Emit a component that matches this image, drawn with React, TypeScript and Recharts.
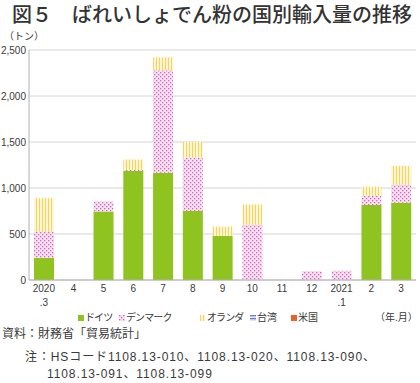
import { Bar, BarChart, CartesianGrid, XAxis, YAxis } from 'recharts'

const months = ['2020.3', '4', '5', '6', '7', '8', '9', '10', '11', '12', '2021.1', '2', '3']
const germany = [240, 0, 745, 1185, 1165, 750, 480, 0, 0, 0, 0, 815, 840]
const denmark = [285, 0, 110, 10, 1115, 580, 0, 600, 0, 95, 100, 100, 195]
const netherlands = [365, 0, 0, 115, 140, 170, 100, 220, 0, 0, 0, 100, 205]
const taiwan = [0, 0, 0, 0, 0, 0, 0, 0, 0, 0, 0, 0, 0]
const usa = [0, 0, 0, 0, 0, 0, 0, 0, 0, 0, 0, 0, 0]
const yTicks = [0, 500, 1000, 1500, 2000, 2500]

const series = [
  { key: 'germany', name: 'ドイツ', fill: '#8fc31f' },
  { key: 'denmark', name: 'デンマーク', fill: 'url(#dk-dots)' },
  { key: 'netherlands', name: 'オランダ', fill: 'url(#nl-stripes)' },
  { key: 'taiwan', name: '台湾', fill: 'url(#tw-lines)' },
  { key: 'usa', name: '米国', fill: '#e8632a' },
]

const data = months.map((month, i) => ({
  month,
  germany: germany[i],
  denmark: denmark[i],
  netherlands: netherlands[i],
  taiwan: taiwan[i],
  usa: usa[i],
}))

const numFont = "'Liberation Sans', Arial, 'Noto Sans CJK JP', sans-serif"
const jpFont = "'Liberation Sans', 'Noto Sans CJK JP', sans-serif"
const textColor = '#3a3a3a'

// legend icon left edges, px
const legendX = [78, 119, 200, 250, 291]

function Patterns() {
  return (
    <svg width={0} height={0} style={{ position: 'absolute' }}>
      <defs>
        <pattern id="dk-dots" patternUnits="userSpaceOnUse" width={4} height={4}>
          <rect width={4} height={4} fill="#f8e0f3" />
          <rect x={0} y={0} width={1.3} height={1.3} fill="#d36abc" />
          <rect x={2} y={2} width={1.3} height={1.3} fill="#d36abc" />
        </pattern>
        <pattern id="nl-stripes" patternUnits="userSpaceOnUse" width={3} height={3}>
          <rect width={3} height={3} fill="#fff6d4" />
          <rect x={0} y={0} width={1} height={3} fill="#f7d260" />
        </pattern>
        <pattern id="tw-lines" patternUnits="userSpaceOnUse" width={3} height={3}>
          <rect width={3} height={3} fill="#dfe3f5" />
          <rect x={0} y={0} width={3} height={1.3} fill="#6f7fc6" />
        </pattern>
      </defs>
    </svg>
  )
}

function MonthTick({ x, y, payload }: { x: number; y: number; payload: { value: string } }) {
  const [top, sub] = String(payload.value).split('.')
  return (
    <g fontFamily={numFont} fontSize={10} fill={textColor}>
      <text x={x} y={y + 12} textAnchor="middle">
        {top}
      </text>
      {sub && (
        <text x={x} y={y + 26} textAnchor="middle">
          .{sub}
        </text>
      )}
    </g>
  )
}

function ChartLegend() {
  return (
    <div style={{ position: 'absolute', left: 0, top: 311, width: 420, height: 16, fontFamily: jpFont, fontSize: 10, color: textColor }}>
      {series.map((s, i) => (
        <div key={s.key} style={{ position: 'absolute', left: legendX[i], top: 0, display: 'flex', alignItems: 'center', whiteSpace: 'nowrap', lineHeight: '14px' }}>
          <svg width={6} height={6} style={{ marginRight: 1 }}>
            <rect width={6} height={6} fill={s.fill} />
          </svg>
          <span style={{ letterSpacing: i < 3 ? -0.9 : 0 }}>{s.name}</span>
        </div>
      ))}
      <div style={{ position: 'absolute', left: 375, top: 0, lineHeight: '14px', whiteSpace: 'nowrap' }}>（年.月）</div>
    </div>
  )
}

export default function App() {
  return (
    <div style={{ position: 'absolute', left: 0, top: 0, width: 420, height: 383, background: '#fff', color: textColor }}>
      <Patterns />
      <div style={{ position: 'absolute', left: 12, top: 1, fontFamily: "'Noto Sans CJK JP', sans-serif", fontSize: 20, fontWeight: 500, lineHeight: '26px', whiteSpace: 'nowrap', color: '#333' }}>
        図５　ばれいしょでん粉の国別輸入量の推移
      </div>
      <div style={{ position: 'absolute', left: 4, top: 31, fontFamily: jpFont, fontSize: 10, lineHeight: '12px' }}>（トン）</div>
      <BarChart width={420} height={330} data={data} margin={{ top: 50, right: 4, bottom: 0, left: 0 }} style={{ position: 'absolute', left: 0, top: 0 }}>
        <CartesianGrid stroke="#d4d4d4" vertical={false} />
        <XAxis
          dataKey="month"
          height={50}
          interval={0}
          tickLine={false}
          tickSize={0}
          tickMargin={0}
          axisLine={{ stroke: '#b0b0b0' }}
          tick={(props: any) => <MonthTick {...props} />}
        />
        <YAxis
          width={29}
          domain={[0, 2500]}
          ticks={yTicks}
          tickLine={false}
          tickSize={0}
          tickMargin={3}
          axisLine={{ stroke: '#b0b0b0' }}
          tickFormatter={(v: number) => v.toLocaleString('en-US')}
          tick={{ fontFamily: numFont, fontSize: 10, fill: textColor }}
        />
        {series.map((s) => (
          <Bar key={s.key} dataKey={s.key} name={s.name} stackId="a" fill={s.fill} barSize={20} isAnimationActive={false} />
        ))}
      </BarChart>
      <ChartLegend />
      <div style={{ position: 'absolute', left: 2, top: 326, fontFamily: jpFont, fontSize: 12, lineHeight: '16px', whiteSpace: 'nowrap' }}>
        資料：財務省「貿易統計」
      </div>
      <div style={{ position: 'absolute', left: 25, top: 349, fontFamily: jpFont, fontSize: 12, lineHeight: '17px', whiteSpace: 'nowrap', letterSpacing: 0.9 }}>
        注：HSコード1108.13-010、1108.13-020、1108.13-090、
        <br />
        <span style={{ paddingLeft: 22 }}>1108.13-091、1108.13-099</span>
      </div>
    </div>
  )
}
